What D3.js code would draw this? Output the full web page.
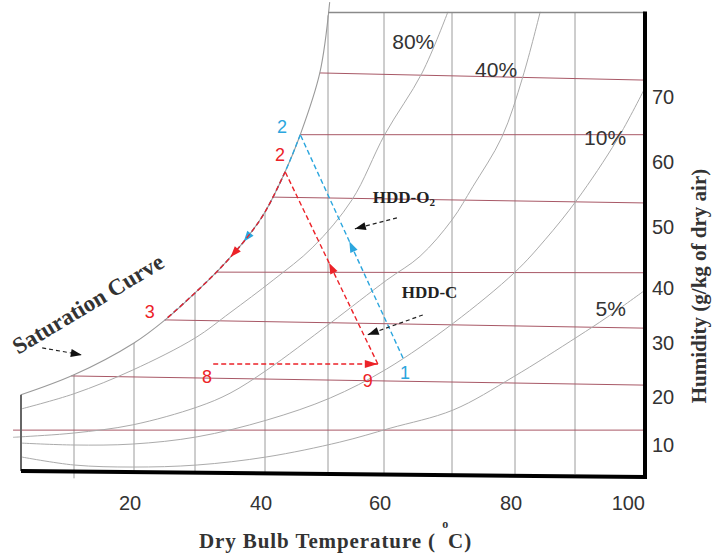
<!DOCTYPE html>
<html>
<head>
<meta charset="utf-8">
<script src="https://cdn.jsdelivr.net/npm/d3@7"></script>
<style>
  html, body { margin: 0; padding: 0; background: #fff; }
  svg { display: block; }
</style>
</head>
<body>
<svg id="chart" width="713" height="558"></svg>
<script>
// ---- Psychrometric chart data: dry-bulb temperature T (°C), humidity W (g/kg dry air) ----
const tempGrid = [10, 20, 30, 40, 50, 60, 70, 80, 90];
const tempTicks = [20, 40, 60, 80, 100];
const humidityTicks = [10, 20, 30, 40, 50, 60, 70];

// constant-humidity lines: W where each leaves the saturation curve, W at 100 °C
const humidityLineStart = [73.7, 64.2, 54.6, 42.6, 34.2, 23.9, 13.1];
const humidityLineEnd   = [72.6, 64.2, 53.7, 42.5, 32.7, 22.2, 13.1];

// relative-humidity curves, [T, W]
const saturationCurve = [[0, 20.4], [10, 24.1], [20, 30.0], [25.1, 34.2], [30, 39.1], [33.9, 43.6],
  [37.6, 48.5], [40, 52.3], [43.2, 58.5], [45.6, 64.2], [48.7, 73.7], [50.3, 84.6]];
const rh80 = [[0, 17.5], [10, 20.6], [19.8, 25.0], [30, 30.9], [35, 35.5], [41.3, 41.3],
  [47.6, 46.7], [54.3, 54.2], [60.1, 64.2], [65.6, 73.7], [69.4, 83.1]];
const rh40 = [[-1.5, 11.6], [0, 11.7], [10, 12.5], [19.8, 14.2], [30.3, 17.9], [35, 20.7], [40.3, 25.0],
  [50.4, 33.6], [60.4, 41.3], [65.3, 45.2], [70, 51.1], [73.3, 56.2], [77.9, 63.8], [81.3, 73.1], [84.2, 83.1]];
const rh10 = [[0, 10.4], [10, 10.0], [19.8, 10.2], [30.3, 11.7], [40.3, 15.2], [50.4, 19.8],
  [60.4, 25.2], [70.2, 33.6], [80, 42.6], [85, 47.9], [90.3, 54.2], [96, 63.4], [100, 71.4]];
const rh5 = [[0, 5.9], [10, 3.1], [19.8, 2.4], [30.3, 3.1], [40.3, 5.9], [52.1, 10.6],
  [60.9, 13.5], [70.2, 17.3], [79.7, 23.7], [90.3, 31.1], [94.6, 34.7], [100, 39.6]];
const rhLabels = ["80%", "40%", "10%", "5%"];
const rhLabelAt = [[64.3, 78.5], [77.0, 74.2], [94.3, 63.7], [95.1, 36.2]];

// process states
const o2States = [[62.8, 27.2], [45.6, 64.2], [25.1, 34.2]];            // 1 → 2 → 3
const cStates = [[32.6, 26.1], [58.9, 26.1], [43.2, 58.5], [25.1, 34.2]]; // 8 → 9 → 2 → 3
const o2Labels = ["1", "2"];
const o2LabelAt = [[63.1, 24.4], [42.7, 65.4]];
const cLabels = ["8", "9", "2", "3"];
const cLabelAt = [[31.7, 23.7], [57.1, 23.0], [42.4, 61.1], [22.6, 35.6]];

// annotations
const noteAt = { sat: [13.0, 35.9], o2: [58.0, 54.6], c: [62.6, 39.1] };
const pointerArrows = [
  [[4.0, 29.1], [11.3, 27.8]],
  [[61.9, 51.4], [54.8, 49.7]],
  [[65.7, 35.1], [57.1, 31.5]]
];

const topW = 83;          // upper edge of the chart
const baseW = [1, -1];    // bottom axis, left and right ends

// ---- scales ----
const x = d3.scaleLinear()
  .domain([0, 10, 20, 30, 40, 50, 60, 70, 80, 90, 100])
  .range([21, 74, 134, 195, 265, 328, 384, 452, 515, 575, 645]);
const y = d3.scaleLinear()
  .domain([0, 10, 20, 30, 40, 50, 60, 70, 80, 90])
  .range([474, 445, 397, 343, 288, 227, 162, 97, 32, -33]);

const satWofT = d3.scaleLinear().domain(saturationCurve.map(d => d[0])).range(saturationCurve.map(d => d[1]));
const satTofW = d3.scaleLinear().domain(saturationCurve.map(d => d[1])).range(saturationCurve.map(d => d[0]));

const svg = d3.select("#chart");
const curve = d3.line().x(d => x(d[0])).y(d => y(d[1])).curve(d3.curveCatmullRom.alpha(0.5));
const straight = d3.line().x(d => x(d[0])).y(d => y(d[1]));

const BLUE = "#2ba6de", RED = "#ec2228", TEXT = "#333";

// ---- grid ----
const grid = svg.append("g");
grid.selectAll("line.vt").data(tempGrid).join("line")
  .attr("x1", d => x(d)).attr("x2", d => x(d))
  .attr("y1", d => y(d < saturationCurve[saturationCurve.length - 1][0] ? satWofT(d) : topW))
  .attr("y2", d => y(d === 10 ? -1.5 : 0))
  .attr("stroke", "#9c9c9c").attr("stroke-width", 1);

grid.selectAll("line.hz").data(humidityLineStart).join("line")
  .attr("x1", d => x(Math.max(satTofW(d), -1.5)))
  .attr("y1", d => y(d))
  .attr("x2", x(100))
  .attr("y2", (d, i) => y(humidityLineEnd[i]))
  .attr("stroke", "#a85866").attr("stroke-width", 1);

// relative humidity curves
svg.append("g").selectAll("path").data([rh80, rh40, rh10, rh5]).join("path")
  .attr("d", curve).attr("fill", "none").attr("stroke", "#ababab").attr("stroke-width", 1);
svg.append("path").attr("d", curve(saturationCurve))
  .attr("fill", "none").attr("stroke", "#9a9a9a").attr("stroke-width", 1.1);

// frame
svg.append("line")
  .attr("x1", x(satTofW(topW))).attr("x2", x(100)).attr("y1", y(topW)).attr("y2", y(topW))
  .attr("stroke", "#8a8a8a").attr("stroke-width", 1.5);
svg.append("line")
  .attr("x1", x(0)).attr("x2", x(0)).attr("y1", y(saturationCurve[0][1])).attr("y2", y(baseW[0]))
  .attr("stroke", "#666").attr("stroke-width", 2);
svg.append("line")
  .attr("x1", x(0)).attr("x2", x(100)).attr("y1", y(baseW[0])).attr("y2", y(baseW[1]))
  .attr("stroke", "#000").attr("stroke-width", 4);
svg.append("line")
  .attr("x1", x(100)).attr("x2", x(100)).attr("y1", y(topW) - 1).attr("y2", y(baseW[1]) + 2)
  .attr("stroke", "#000").attr("stroke-width", 4);

// ---- tick labels ----
svg.append("g").selectAll("text").data(tempTicks).join("text")
  .attr("x", d => d === 100 ? x(d) : x(d) - 4)
  .attr("y", y(0) + 36)
  .attr("text-anchor", d => d === 100 ? "end" : "middle")
  .attr("font-family", "Liberation Sans, Arial, sans-serif").attr("font-size", 20)
  .attr("fill", TEXT).text(d => d);

svg.append("g").selectAll("text").data(humidityTicks).join("text")
  .attr("x", x(100) + 7)
  .attr("y", d => y(d) + 7)
  .attr("font-family", "Liberation Sans, Arial, sans-serif").attr("font-size", 20)
  .attr("fill", TEXT).text(d => d);

// axis titles
const xt = svg.append("text")
  .attr("x", 199).attr("y", 548)
  .attr("font-family", "Liberation Serif, Times New Roman, serif").attr("font-weight", "bold")
  .attr("font-size", 21).attr("letter-spacing", 0.9).attr("fill", TEXT);
xt.append("tspan").text("Dry Bulb Temperature ( ");
xt.append("tspan").attr("dy", -20).attr("font-size", 12).text("o");
xt.append("tspan").attr("dy", 20).attr("dx", -1).text("C)");

svg.append("text")
  .attr("transform", "translate(706,286) rotate(-90)")
  .attr("text-anchor", "middle")
  .attr("font-family", "Liberation Serif, Times New Roman, serif").attr("font-weight", "bold")
  .attr("font-size", 21).attr("fill", TEXT)
  .text("Humidity (g/kg of dry air)");

// RH labels
svg.append("g").selectAll("text").data(rhLabels).join("text")
  .attr("x", (d, i) => x(rhLabelAt[i][0])).attr("y", (d, i) => y(rhLabelAt[i][1]))
  .attr("text-anchor", "middle").attr("dominant-baseline", "central")
  .attr("font-family", "Liberation Sans, Arial, sans-serif").attr("font-size", 21)
  .attr("fill", TEXT).text(d => d);

// ---- arrows ----
function head(px, py, ang, len, wid, color) {
  svg.append("path")
    .attr("d", `M0,0L${-len},${-wid / 2}L${-len},${wid / 2}Z`)
    .attr("transform", `translate(${px},${py}) rotate(${ang})`)
    .attr("fill", color);
}
function midHead(path, len, wid, color) {
  const node = path.node(), L = node.getTotalLength();
  const a = node.getPointAtLength(L / 2 - len / 2), b = node.getPointAtLength(L / 2 + len / 2);
  head(b.x, b.y, Math.atan2(b.y - a.y, b.x - a.x) * 180 / Math.PI, len, wid, color);
}
function endHead(path, len, wid, color) {
  const node = path.node(), L = node.getTotalLength();
  const a = node.getPointAtLength(L - 2), b = node.getPointAtLength(L);
  head(b.x, b.y, Math.atan2(b.y - a.y, b.x - a.x) * 180 / Math.PI, len, wid, color);
}
const alongSaturation = (from, to) =>
  [from, ...saturationCurve.filter(p => p[0] < from[0] && p[0] > to[0]).reverse(), to];

function dashed(d, color) {
  return svg.append("path").attr("d", d).attr("fill", "none")
    .attr("stroke", color).attr("stroke-width", 1.4).attr("stroke-dasharray", "5,3");
}

// HDD-O2 process: 1 → 2 → 3
const o2a = dashed(straight([o2States[0], o2States[1]]), BLUE);
const o2b = dashed(curve(alongSaturation(o2States[1], o2States[2])), BLUE);
midHead(o2a, 11, 8, BLUE);
midHead(o2b, 11, 8, BLUE);

// HDD-C process: 8 → 9 → 2 → 3
const ca = dashed(straight([cStates[0], cStates[1]]), RED);
const cb = dashed(straight([cStates[1], cStates[2]]), RED);
const cc = dashed(curve(alongSaturation(cStates[2], cStates[3])), RED);
endHead(ca, 13, 8, RED);
midHead(cb, 11, 8, RED);
midHead(cc, 11, 8, RED);

// state numbers
const stateFont = "Liberation Sans, Arial, sans-serif";
svg.append("g").selectAll("text").data(o2Labels).join("text")
  .attr("x", (d, i) => x(o2LabelAt[i][0])).attr("y", (d, i) => y(o2LabelAt[i][1]))
  .attr("text-anchor", "middle").attr("dominant-baseline", "central")
  .attr("font-family", stateFont).attr("font-size", 18).attr("fill", BLUE).text(d => d);
svg.append("g").selectAll("text").data(cLabels).join("text")
  .attr("x", (d, i) => x(cLabelAt[i][0])).attr("y", (d, i) => y(cLabelAt[i][1]))
  .attr("text-anchor", "middle").attr("dominant-baseline", "central")
  .attr("font-family", stateFont).attr("font-size", 18).attr("fill", RED).text(d => d);

// pointer arrows
pointerArrows.forEach(seg => {
  const p = svg.append("path").attr("d", straight(seg)).attr("fill", "none")
    .attr("stroke", "#222").attr("stroke-width", 1.2).attr("stroke-dasharray", "4,3");
  endHead(p, 11, 8, "#111");
});

// annotation text
const serif = "Liberation Serif, Times New Roman, serif";
svg.append("text")
  .attr("transform", `translate(${x(noteAt.sat[0])},${y(noteAt.sat[1])}) rotate(-31)`)
  .attr("text-anchor", "middle")
  .attr("font-family", serif).attr("font-weight", "bold").attr("font-size", 23)
  .attr("fill", TEXT).text("Saturation Curve");

const o2t = svg.append("text")
  .attr("x", x(noteAt.o2[0])).attr("y", y(noteAt.o2[1])).attr("dominant-baseline", "central")
  .attr("font-family", serif).attr("font-weight", "bold").attr("font-size", 17).attr("fill", "#222");
o2t.append("tspan").text("HDD-O");
o2t.append("tspan").attr("dy", 5).attr("font-size", 11).text("2");

svg.append("text")
  .attr("x", x(noteAt.c[0])).attr("y", y(noteAt.c[1])).attr("dominant-baseline", "central")
  .attr("font-family", serif).attr("font-weight", "bold").attr("font-size", 17).attr("fill", "#222")
  .text("HDD-C");
</script>
</body>
</html>
